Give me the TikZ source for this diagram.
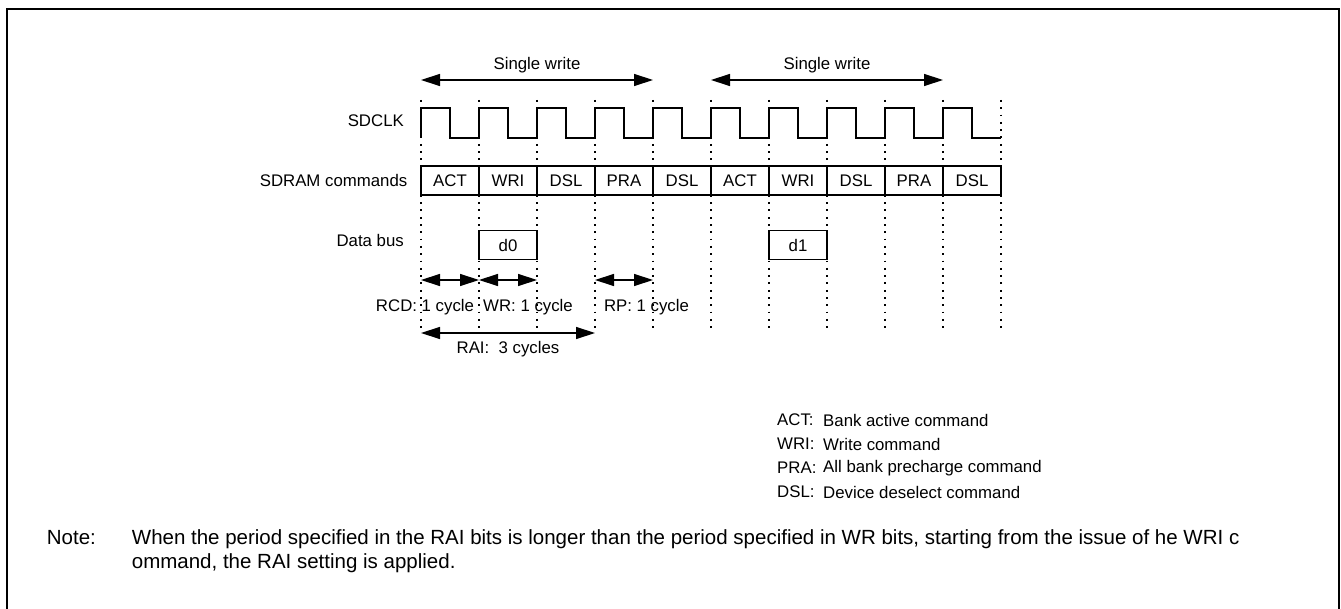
\documentclass[tikz,border=0pt]{standalone}
\usepackage{fontspec}
\setmainfont{Liberation Sans}
\usetikzlibrary{arrows.meta}

\begin{document}
\begin{tikzpicture}[x=1pt,y=-1pt]
	% Styles
	\tikzstyle{fleche}=[<->,>={Triangle[length=19pt,width=12pt]},line width=1.3pt]
	\tikzstyle{pointille}=[line width=1.8pt,dash pattern=on 1.8pt off 5.5pt]
	\tikzstyle{signal}=[line width=1.2pt]
	\tikzstyle{case}=[draw,line width=1.2pt,minimum width=58pt,minimum height=29pt,inner sep=0pt,font=\fontsize{16.8}{20}\selectfont]
	\tikzstyle{etiquette}=[font=\fontsize{16.8}{20}\selectfont,inner sep=0pt]
	\tikzstyle{note}=[font=\fontsize{20.5}{24}\selectfont,inner sep=0pt,anchor=base west]
	% Dimensions
	\def\Origine{421}
	\def\Pas{58}
	\def\Haut{108}
	\def\Bas{138}
	\def\NiveauCmd{180.5}
	\def\NiveauData{245}
	\def\FinGrille{331}
	% Cadre
	\useasboundingbox (0,0) rectangle (1341,609);
	\draw[line width=1.2pt] (7,615) -- (7,9) -- (1339,9) -- (1339,615);
	% Etiquettes des lignes
	\node[etiquette,anchor=east] (nomClk) at (404,120.5) {SDCLK};
	\node[etiquette,anchor=east] (nomCmd) at (407.5,180.5) {SDRAM commands};
	\node[etiquette,anchor=east] (nomData) at (404,240) {Data bus};
	% Horloge
	\draw[signal] (\Origine,\Bas) \foreach \i in {0,...,9} {
		-- ({\Origine+\i*\Pas},\Haut) -- ({\Origine+\i*\Pas+29},\Haut)
		-- ({\Origine+\i*\Pas+29},\Bas) -- ({\Origine+(\i+1)*\Pas},\Bas)};
	% Commandes
	\node[case] (actA) at ({\Origine+(0.5)*\Pas},\NiveauCmd) {ACT};
	\node[case] (wriA) at ({\Origine+(1.5)*\Pas},\NiveauCmd) {WRI};
	\node[case] (dslA) at ({\Origine+(2.5)*\Pas},\NiveauCmd) {DSL};
	\node[case] (praA) at ({\Origine+(3.5)*\Pas},\NiveauCmd) {PRA};
	\node[case] (dslB) at ({\Origine+(4.5)*\Pas},\NiveauCmd) {DSL};
	\node[case] (actB) at ({\Origine+(5.5)*\Pas},\NiveauCmd) {ACT};
	\node[case] (wriB) at ({\Origine+(6.5)*\Pas},\NiveauCmd) {WRI};
	\node[case] (dslC) at ({\Origine+(7.5)*\Pas},\NiveauCmd) {DSL};
	\node[case] (praB) at ({\Origine+(8.5)*\Pas},\NiveauCmd) {PRA};
	\node[case] (dslD) at ({\Origine+(9.5)*\Pas},\NiveauCmd) {DSL};
	% Bus de donnees
	\node[case] (dZero) at ({\Origine+(1.5)*\Pas},\NiveauData) {d0};
	\node[case] (dUn) at ({\Origine+(6.5)*\Pas},\NiveauData) {d1};
	% Grille
	\foreach \i in {0,...,10}
		\draw[pointille] ({\Origine+\i*\Pas},100) -- ({\Origine+\i*\Pas},\FinGrille);
	% Points des fleches
	\coordinate (ecrA1) at ({\Origine+(0)*\Pas},80);
	\coordinate (ecrA2) at ({\Origine+(4)*\Pas},80);
	\coordinate (ecrB1) at ({\Origine+(5)*\Pas},80);
	\coordinate (ecrB2) at ({\Origine+(9)*\Pas},80);
	\coordinate (t0) at ({\Origine+(0)*\Pas},280);
	\coordinate (t1) at ({\Origine+(1)*\Pas},280);
	\coordinate (t2) at ({\Origine+(2)*\Pas},280);
	\coordinate (t3) at ({\Origine+(3)*\Pas},280);
	\coordinate (t4) at ({\Origine+(4)*\Pas},280);
	\coordinate (r0) at ({\Origine+(0)*\Pas},333);
	\coordinate (r3) at ({\Origine+(3)*\Pas},333);
	% Fleches
	\draw[fleche] (ecrA1) -- (ecrA2);
	\draw[fleche] (ecrB1) -- (ecrB2);
	\draw[fleche] (t0) -- (t1);
	\draw[fleche] (t1) -- (t2);
	\draw[fleche] (t3) -- (t4);
	\draw[fleche] (r0) -- (r3);
	% Textes des fleches
	\node[etiquette] (txtEcrA) at ({\Origine+(2)*\Pas},65) {Single write};
	\node[etiquette] (txtEcrB) at ({\Origine+(7)*\Pas},65) {Single write};
	\node[etiquette] (txtRCD) at (425,307) {RCD: 1 cycle};
	\node[etiquette] (txtWR) at (528,307) {WR: 1 cycle};
	\node[etiquette] (txtRP) at (646.5,307) {RP: 1 cycle};
	\node[etiquette] (txtRAI) at (508,349.5) {RAI:\ \ 3 cycles};
	% Legende
	\node[etiquette,anchor=west] (legACT) at (777,420) {ACT:};
	\node[etiquette,anchor=west] (defACT) at (823,420) {Bank active command};
	\node[etiquette,anchor=west] (legWRI) at (777,444) {WRI:};
	\node[etiquette,anchor=west] (defWRI) at (823,444) {Write command};
	\node[etiquette,anchor=west] (legPRA) at (777,468) {PRA:};
	\node[etiquette,anchor=west] (defPRA) at (823,468) {All bank precharge command};
	\node[etiquette,anchor=west] (legDSL) at (777,492) {DSL:};
	\node[etiquette,anchor=west] (defDSL) at (823,492) {Device deselect command};
	% Note
	\node[note] (noteTitre) at (46.7,544) {Note:};
	\node[note] (noteA) at (131.7,544) {When the period specified in the RAI bits is longer than the period specified in WR bits, starting from the issue of he WRI c};
	\node[note] (noteB) at (131.7,568) {ommand, the RAI setting is applied.};
\end{tikzpicture}
\end{document}
